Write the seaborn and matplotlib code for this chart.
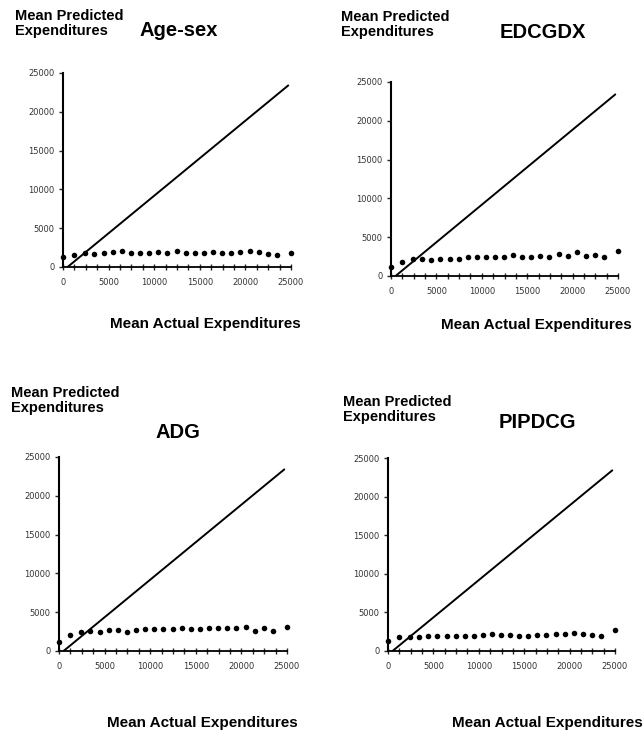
import matplotlib
matplotlib.use("Agg")
import matplotlib.pyplot as plt
import numpy as np
import pandas as pd
import seaborn as sns
from matplotlib.ticker import MultipleLocator

sns.set_style("white")
plt.rcParams['font.family'] = ['Liberation Sans', 'DejaVu Sans']
plt.rcParams['text.color'] = 'black'

W, H = 644, 731

# mean actual expenditures (group means, same for each model)
actual = [0, 1250, 2400, 3450, 4450, 5450, 6450, 7450, 8450, 9450, 10450, 11450,
          12450, 13450, 14450, 15450, 16450, 17450, 18450, 19450, 20450, 21450,
          22450, 23450, 25000]

# mean predicted expenditures
pred_agesex = [1300, 1600, 1800, 1700, 1750, 1900, 2000, 1800, 1800, 1850, 1900, 1850,
               2000, 1750, 1800, 1850, 1950, 1800, 1850, 1950, 2000, 1900, 1700, 1600, 1800]
pred_edcgdx = [1200, 1850, 2150, 2250, 2050, 2250, 2250, 2250, 2400, 2400, 2400, 2500,
               2400, 2700, 2400, 2500, 2600, 2400, 2850, 2600, 3050, 2600, 2750, 2400, 3250]
pred_adg = [1200, 2050, 2500, 2550, 2500, 2700, 2700, 2500, 2700, 2800, 2800, 2800,
            2800, 2900, 2800, 2800, 2900, 2950, 3000, 2900, 3150, 2550, 3000, 2600, 3150]
pred_pipdcg = [1300, 1750, 1800, 1850, 1900, 1900, 2000, 2000, 1950, 1950, 2050, 2150,
               2050, 2050, 1950, 2000, 2050, 2050, 2150, 2150, 2300, 2150, 2100, 1950, 2700]

# reference line
line_x = [500, 24700]
line_y = [0, 23400]

titles = ["Age-sex", "EDCGDX", "ADG", "PIPDCG"]
preds = [pred_agesex, pred_edcgdx, pred_adg, pred_pipdcg]

# layout in pixels: axes box (left, top, right, bottom), ylabel (x, top), title (cx, cy), xlabel (cx, cy)
boxes = [(63, 73, 291, 267), (391, 82, 618, 276), (59, 457, 287, 651), (388, 458, 615, 651)]
ylab_pos = [(15, 9), (341, 10), (11, 386), (343, 395)]
title_pos = [(179, 31), (543, 32), (178, 432), (537, 423)]
xlab_pos = [(205, 324), (536, 325), (202, 723), (547, 723)]

fig = plt.figure(figsize=(W / 100, H / 100), dpi=100)


def fx(px):
    return px / W


def fy(py):
    return 1 - py / H


for i in range(4):
    l, t, r, b = boxes[i]
    ax = fig.add_axes([fx(l), fy(b), fx(r - l), (b - t) / H])
    df = pd.DataFrame({"actual": actual, "predicted": preds[i]})
    sns.lineplot(x=line_x, y=line_y, color="black", linewidth=1.4, ax=ax)
    sns.scatterplot(data=df, x="actual", y="predicted", color="black", s=16,
                    edgecolor="black", linewidth=0, clip_on=False, ax=ax, zorder=3)
    ax.set_xlim(0, 25000)
    ax.set_ylim(0, 25000)
    ax.set_xlabel("")
    ax.set_ylabel("")
    ax.xaxis.set_major_locator(MultipleLocator(5000))
    ax.xaxis.set_minor_locator(MultipleLocator(1250))
    ax.yaxis.set_major_locator(MultipleLocator(5000))
    ax.tick_params(axis="x", which="both", direction="inout", length=4, width=1,
                   labelsize=6, pad=6, bottom=True)
    ax.tick_params(axis="y", which="major", direction="out", length=3, width=1,
                   labelsize=6, pad=3, left=True)
    ax.tick_params(labelcolor="#333333")
    for tl in ax.get_xticklabels() + ax.get_yticklabels():
        tl.set_family("DejaVu Sans")
    sns.despine(ax=ax)
    ax.spines["left"].set_linewidth(1.5)
    ax.spines["bottom"].set_linewidth(1.3)
    ax.spines["left"].set_color("black")
    ax.spines["bottom"].set_color("black")

    yx, yt = ylab_pos[i]
    fig.text(fx(yx), fy(yt), "Mean Predicted\nExpenditures", ha="left", va="top",
             fontsize=10.5, fontweight="bold", linespacing=1.1)
    cx, cy = title_pos[i]
    fig.text(fx(cx), fy(cy), titles[i], ha="center", va="center",
             fontsize=14.5, fontweight="bold")
    lx, ly = xlab_pos[i]
    fig.text(fx(lx), fy(ly), "Mean Actual Expenditures", ha="center", va="center",
             fontsize=11, fontweight="bold")

fig.savefig("out.png", dpi=100, facecolor="white")
